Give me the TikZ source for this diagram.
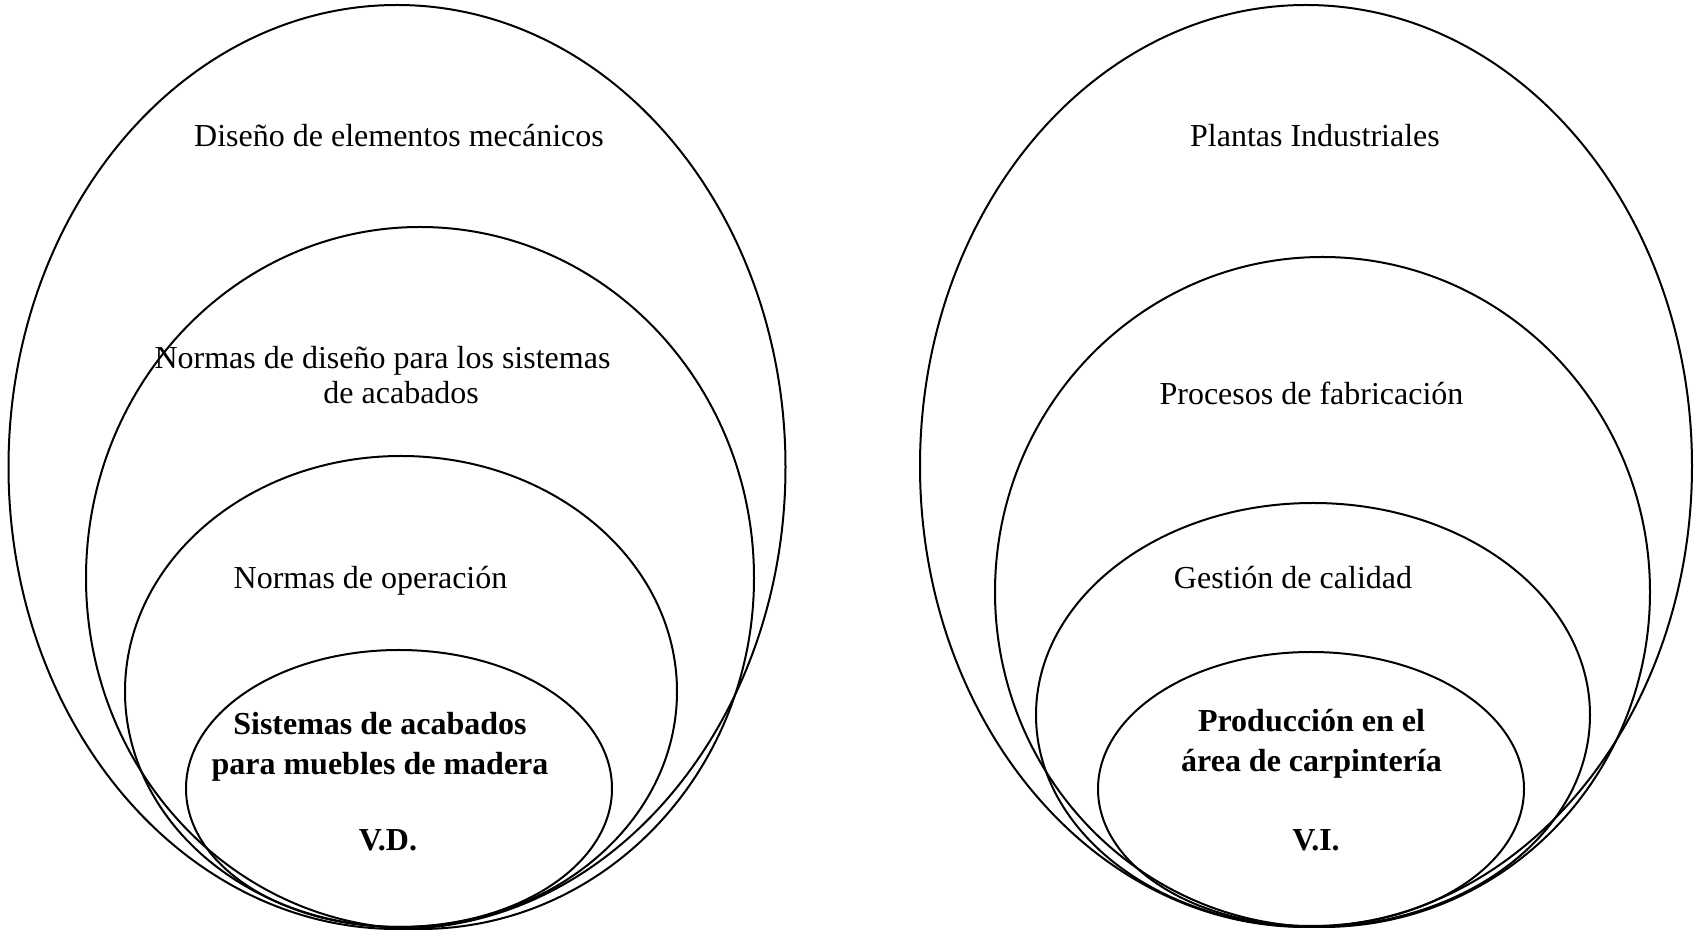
\documentclass[tikz,border=0pt]{standalone}
\usepackage{fontspec}
\setmainfont{Liberation Serif}
\usetikzlibrary{shapes.geometric}

\begin{document}
\begin{tikzpicture}[x=0.375pt, y=-0.375pt,
  oval/.style 2 args={ellipse, draw, line width=0.75pt, inner sep=0pt,
    minimum width=#1*0.75pt, minimum height=#2*0.75pt},
  txt/.style={font=\fontsize{12}{13.3}\selectfont, align=center, inner sep=0pt},
  txtb/.style={font=\fontsize{12}{15}\selectfont\bfseries, align=center, inner sep=0pt}]
  \useasboundingbox (0,0) rectangle (1694,932);
  % variable dependiente
  \node[oval={388.5}{462}] (vdA) at (397,467) {};
  \node[oval={334}{351}] (vdB) at (420,578) {};
  \node[oval={276}{235.5}] (vdC) at (401,691.5) {};
  \node[oval={213}{138.5}] (vdD) at (399,788.5) {};
  \node[txt] (disA) at (399,136) {Diseño de elementos mecánicos};
  \node[txt] (disB) at (382.5,375) {Normas de diseño para los sistemas\\\hspace*{14pt}de acabados};
  \node[txt] (disC) at (370.5,581) {Normas de operación};
  \node[txtb] (disD) at (380,747) {Sistemas de acabados\\para muebles de madera};
  \node[txtb] (vd) at (388,840) {V.D.};
  % variable independiente
  \node[oval={386}{461}] (viA) at (1306,466) {};
  \node[oval={327.5}{335}] (viB) at (1322.5,592) {};
  \node[oval={277}{212}] (viC) at (1313,715) {};
  \node[oval={213}{137}] (viD) at (1311,789) {};
  \node[txt] (proA) at (1315,136) {Plantas Industriales};
  \node[txt] (proB) at (1311.5,393) {Procesos de fabricación};
  \node[txt] (proC) at (1293,578) {Gestión de calidad};
  \node[txtb] (proD) at (1311.5,744) {Producción en el\\área de carpintería};
  \node[txtb] (vi) at (1316,840) {V.I.};
\end{tikzpicture}
\end{document}
